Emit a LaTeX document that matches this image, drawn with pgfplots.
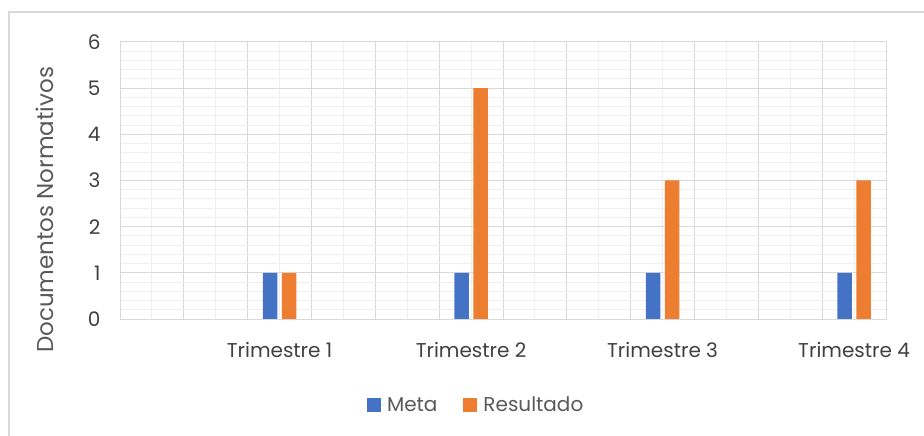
\documentclass[border=0pt]{standalone}
\usepackage{pgfplots}
\pgfplotsset{compat=1.18}
\usepackage{fontspec}
\setmainfont{Poppins}
\definecolor{metablue}{HTML}{4472C4}
\definecolor{resorange}{HTML}{ED7D31}
\definecolor{gridmajor}{HTML}{D9D9D9}
\definecolor{gridminor}{HTML}{EFEFEF}
\definecolor{txt}{HTML}{595959}
\definecolor{txtdark}{HTML}{404040}
\begin{document}
\begin{tikzpicture}
\path[use as bounding box] (0,0) rectangle (924bp,436bp);
\draw[gridmajor, line width=1.5bp] (9bp,0) -- (9bp,424bp) -- (925bp,424bp);
\begin{axis}[
  at={(120bp,117bp)}, anchor=south west,
  scale only axis, width=766bp, height=277bp,
  xmin=0, xmax=12, ymin=0, ymax=6,
  xtick={0,...,12}, xticklabels={},
  minor x tick num=1,
  ytick={0,...,6}, minor y tick num=4,
  major tick length=0, minor tick length=0,
  grid=both,
  major grid style={gridmajor, line width=1bp},
  minor grid style={gridminor, line width=1bp},
  axis line style={gridmajor, line width=1bp},
  extra x ticks={2.5,5.5,8.5,11.5},
  extra x tick labels={Trimestre 1,Trimestre 2,Trimestre 3,Trimestre 4},
  extra x tick style={grid=none, major tick length=0,
    tick label style={yshift=-20bp}},
  tick label style={font=\fontsize{20bp}{24bp}\selectfont, text=txtdark},
  yticklabel style={xshift=-16bp},
  /pgf/number format/assume math mode=true,
  ylabel={Documentos Normativos},
  ylabel style={at={(axis description cs:-0.098,0.394)}, anchor=center,
    font=\fontsize{23bp}{27bp}\selectfont, text=txt},
  ybar, bar width=14.5bp,
  legend style={at={(axis description cs:0.465,-0.31)}, anchor=center,
    draw=none, legend columns=2, font=\fontsize{20bp}{24bp}\selectfont,
    text=txt, /tikz/every even column/.append style={column sep=24bp}},
  legend image code/.code={\fill[#1] (0bp,-7bp) rectangle (14bp,7bp);
    \path (0bp,0bp) -- (18bp,0bp);},
]
\addplot[fill=metablue, draw=none, bar shift=-9.5bp]
  coordinates {(2.5,1) (5.5,1) (8.5,1) (11.5,1)};
\addplot[fill=resorange, draw=none, bar shift=9.5bp]
  coordinates {(2.5,1) (5.5,5) (8.5,3) (11.5,3)};
\legend{Meta,Resultado}
\end{axis}
\end{tikzpicture}
\end{document}
